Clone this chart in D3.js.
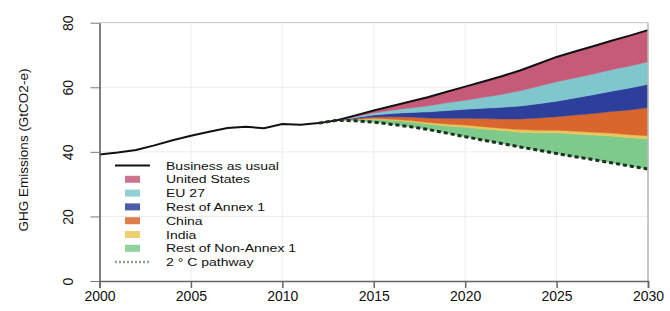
<!DOCTYPE html>
<html lang="en">
<head>
<meta charset="utf-8"/>
<title>GHG emissions wedges</title>
<style>
  * { margin: 0; padding: 0; }
  body { background: #fff; }
  svg { display: block; }
  text { font-family: "Liberation Sans", Arial, sans-serif; fill: #111; }
  .tick-label { font-size: 14px; }
  .y-title { font-size: 13.5px; }
  .legend text { font-size: 11.5px; }
  .grid line { stroke: #ececec; stroke-width: 1; }
</style>
<script src="https://d3js.org/d3.v7.min.js"></script>
</head>
<body>
<svg width="670" height="311"></svg>
<script>
// business as usual, 2000-2030
const bauYears = d3.range(2000, 2031);
const bau = [39.2, 39.8, 40.6, 42.0, 43.6, 45.0, 46.2, 47.4, 47.8, 47.3, 48.6,
             48.4, 48.9, 49.8, 51.3, 52.8, 54.2, 55.6, 57.0, 58.6, 60.2,
             61.8, 63.4, 65.2, 67.3, 69.4, 71.1, 72.7, 74.4, 76.0, 77.7];

// 2 deg C pathway, 2012-2030
const pathYears = d3.range(2012, 2031);
const pathway = [48.9, 49.8, 49.6, 49.2, 48.5, 47.8, 46.9, 45.8, 44.7, 43.6,
                 42.6, 41.5, 40.5, 39.5, 38.5, 37.6, 36.6, 35.6, 34.7];

// reduction wedges (thickness), 2013-2030
const wedgeYears = d3.range(2013, 2031);
const unitedStates = [0, 0.4, 0.8, 1.3, 2.0, 2.7, 3.4, 4.2, 4.9, 5.6, 6.3, 7.0, 7.7, 8.2, 8.6, 9.0, 9.4, 9.8];
const eu27         = [0, 0.3, 0.6, 1.0, 1.4, 1.9, 2.4, 2.8, 3.4, 4.0, 4.7, 5.4, 6.0, 6.2, 6.4, 6.6, 6.8, 7.0];
const restAnnex1   = [0, 0.3, 0.6, 1.0, 1.4, 1.9, 2.4, 2.8, 3.2, 3.6, 4.0, 4.4, 4.8, 5.3, 5.8, 6.3, 6.8, 7.2];
const china        = [0, 0.2, 0.5, 0.8, 1.1, 1.4, 1.8, 2.1, 2.5, 2.9, 3.3, 3.8, 4.2, 5.0, 5.8, 6.7, 7.7, 8.7];
const india        = [0, 0.1, 0.2, 0.3, 0.4, 0.5, 0.6, 0.7, 0.7, 0.7, 0.8, 0.8, 0.8, 0.9, 0.9, 0.9, 0.9, 1.0];
const restNonAnnex = [0, 0.4, 0.9, 1.3, 1.5, 1.7, 2.2, 2.9, 3.5, 4.0, 4.6, 5.4, 6.4, 7.0, 7.6, 8.3, 8.8, 9.3];

const xTicks = [2000, 2005, 2010, 2015, 2020, 2025, 2030];
const yTicks = [0, 20, 40, 60, 80];

// stacked from the pathway upward
const series = [
  { key: "Rest of Non-Annex 1", values: restNonAnnex, color: "#7ec98c" },
  { key: "India",               values: india,        color: "#eac659" },
  { key: "China",               values: china,        color: "#d8662d" },
  { key: "Rest of Annex 1",     values: restAnnex1,   color: "#2d3f9a" },
  { key: "EU 27",               values: eu27,         color: "#80c7cd" },
  { key: "United States",       values: unitedStates, color: "#c55b79" }
];

const svg = d3.select("svg");

const x = d3.scaleLinear().domain([2000, 2030]).range([99.5, 648]);
const y = d3.scaleLinear().domain([0, 80]).range([281, 22.7]);

// light grid
const grid = svg.append("g").attr("class", "grid");
grid.selectAll("line.vx")
  .data(xTicks.slice(1, -1))
  .enter().append("line")
  .attr("x1", d => x(d)).attr("x2", d => x(d))
  .attr("y1", y(80)).attr("y2", y(0));
grid.selectAll("line.hy")
  .data(yTicks.slice(1, -1))
  .enter().append("line")
  .attr("x1", x(2000)).attr("x2", x(2030))
  .attr("y1", d => y(d)).attr("y2", d => y(d));

// build table for the stack
const table = wedgeYears.map((yr, i) => {
  const row = { year: yr, base: pathway[pathYears.indexOf(yr)] };
  series.forEach(s => { row[s.key] = s.values[i]; });
  return row;
});

const stack = d3.stack().keys(series.map(s => s.key));
const layers = stack(table);

const area = d3.area()
  .x(d => x(d.data.year))
  .y0(d => y(d.data.base + d[0]))
  .y1(d => y(d.data.base + d[1]));

svg.append("g")
  .selectAll("path")
  .data(layers)
  .enter().append("path")
  .attr("d", area)
  .attr("fill", (d, i) => series[i].color)
  .attr("stroke", (d, i) => series[i].color)
  .attr("stroke-width", 0.5);

// business as usual line
const bauLine = d3.line()
  .x((d, i) => x(bauYears[i]))
  .y(d => y(d));

svg.append("path")
  .attr("d", bauLine(bau))
  .attr("fill", "none")
  .attr("stroke", "#111")
  .attr("stroke-width", 2);

// 2 C pathway
const pathLine = d3.line()
  .x((d, i) => x(pathYears[i]))
  .y(d => y(d));

svg.append("path")
  .attr("d", pathLine(pathway))
  .attr("fill", "none")
  .attr("stroke", "#1d301e")
  .attr("stroke-width", 3)
  .attr("stroke-dasharray", "4,3");

// frame: top and right in light grey
svg.append("line")
  .attr("x1", x(2000)).attr("x2", x(2030))
  .attr("y1", y(80)).attr("y2", y(80))
  .attr("stroke", "#c4c4c4");
svg.append("line")
  .attr("x1", x(2030)).attr("x2", x(2030))
  .attr("y1", y(80)).attr("y2", y(0))
  .attr("stroke", "#b8b8b8").attr("stroke-width", 1.5);

// x axis
const xAxis = svg.append("g")
  .attr("transform", `translate(0, ${y(0)})`)
  .call(d3.axisBottom(x).tickValues(xTicks).tickFormat(d3.format("d")).tickSize(7).tickPadding(5));
xAxis.select(".domain").attr("stroke", "#666").attr("stroke-width", 1.5);
xAxis.selectAll(".tick line").attr("stroke", "#666").attr("stroke-width", 1.5);
xAxis.selectAll(".tick text")
  .attr("class", "tick-label")
  .attr("font-family", null).attr("font-size", null)
  .attr("y", 20).attr("dy", 0);

// y axis
const yAxis = svg.append("g")
  .attr("transform", `translate(${x(2000)}, 0)`)
  .call(d3.axisLeft(y).tickValues(yTicks).tickSize(9).tickSizeOuter(0));
yAxis.select(".domain").attr("stroke", "#555").attr("stroke-width", 1.5);
yAxis.selectAll(".tick line").attr("stroke", "#777").attr("stroke-width", 1);
yAxis.selectAll(".tick text")
  .attr("class", "tick-label")
  .attr("font-family", null).attr("font-size", null)
  .attr("x", 0).attr("dy", null)
  .attr("text-anchor", "middle")
  .attr("dominant-baseline", "central")
  .attr("transform", "translate(-31.5, 0) rotate(-90)");

svg.append("text")
  .attr("class", "y-title")
  .attr("transform", "translate(23.5, 150) rotate(-90)")
  .attr("text-anchor", "middle")
  .attr("dominant-baseline", "central")
  .text("GHG Emissions (GtCO2-e)");

// legend
const legendItems = [
  { key: "Business as usual", kind: "line" },
  ...series.slice().reverse().map(s => ({ key: s.key, kind: "box", color: s.color })),
  { key: "2 \u00b0 C pathway", kind: "dash" }
];

const legend = svg.append("g").attr("class", "legend");
const rowY = i => 165.5 + i * 13.8;

legendItems.forEach((d, i) => {
  const ry = rowY(i);
  if (d.kind === "line") {
    legend.append("line")
      .attr("x1", 115).attr("x2", 150).attr("y1", ry).attr("y2", ry)
      .attr("stroke", "#111").attr("stroke-width", 2);
  } else if (d.kind === "box") {
    legend.append("rect")
      .attr("x", 125).attr("y", ry - 3.5).attr("width", 15).attr("height", 7)
      .attr("fill", d.color).attr("opacity", 0.85);
  } else {
    legend.append("line")
      .attr("x1", 115).attr("x2", 150).attr("y1", ry).attr("y2", ry)
      .attr("stroke", "#8fa08f").attr("stroke-width", 2.5)
      .attr("stroke-dasharray", "2,2");
  }
  legend.append("text")
    .attr("transform", `translate(166, ${ry}) scale(1.22, 1)`)
    .attr("dominant-baseline", "central")
    .text(d.key);
});
</script>
</body>
</html>
